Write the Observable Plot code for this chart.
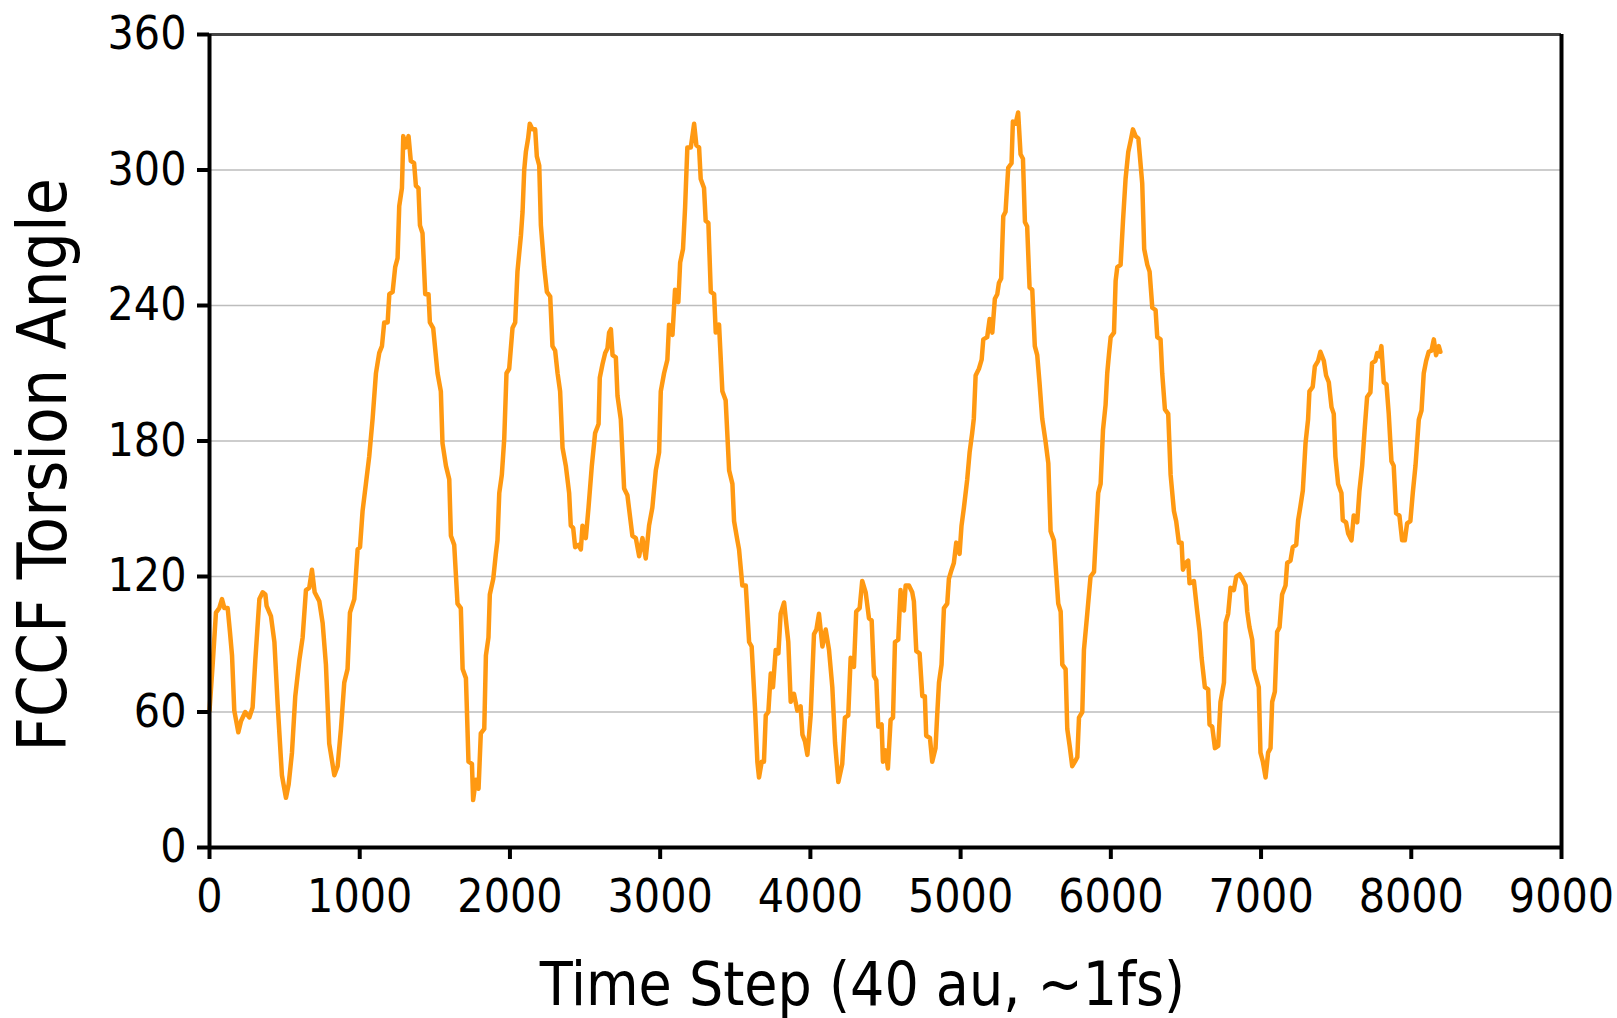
<!DOCTYPE html>
<html><head><meta charset="utf-8">
<script src="https://cdn.jsdelivr.net/npm/d3@7"></script>
<script src="https://cdn.jsdelivr.net/npm/@observablehq/plot@0.6"></script>
<style>html,body{margin:0;padding:0;background:#fff;overflow:hidden}</style>
</head><body><div id="chart"></div>
<script>
const xTicks = [0,1000,2000,3000,4000,5000,6000,7000,8000,9000];
const yTicks = [0,60,120,180,240,300,360];
const xLabel = "Time Step (40 au, ~1fs)";
const yLabel = "FCCF Torsion Angle";
// [time step, torsion angle]
const torsion = [
[0,60.6],[21,81],[43,104],[65,106],[83,110],[99,106],[121,106],[136,95.5],[150,85],[165,60.6],[192,51],[210,56],[238,60],[265,57.6],[287,62],[305,83],[332,110],[354,113],[372,112],[380,107],[409,102.5],[432,91],[454,63],[482,32],[509,22],[527,28],[549,42],[571,67],[598,83],[620,93],[642,114],[664,115],[682,123],[700,113],[731,109],[753,99.5],[775,81],[797,46],[831,32],[853,36],[875,52.5],[897,73],[919,79],[935,104],[964,110],[986,132],[1002,133],[1019,149],[1041,161],[1063,173],[1086,190],[1108,210],[1130,219],[1148,222],[1163,232.5],[1186,232.5],[1197,245],[1219,246],[1236,257],[1252,261],[1263,284],[1281,292],[1290,315],[1307,310],[1325,315],[1340,304],[1362,303],[1374,293],[1391,292],
[1401,275.5],[1418,272],[1436,245],[1458,245],[1467,232.5],[1489,230],[1518,210],[1540,202],[1551,179],[1574,169],[1596,163],[1607,138],[1629,134],[1651,108],[1673,106],[1685,79],[1707,75],[1724,38],[1747,37],[1755,21],[1773,30],[1791,26],[1806,50.5],[1829,52.5],[1840,85],[1857,93],[1866,112],[1889,119],[1906,130],[1917,136],[1929,157],[1946,165],[1962,181],[1977,210],[1995,212],[2017,230],[2035,232.5],[2050,255],[2073,271],[2084,281.5],[2095,300],[2106,308],[2121,314],[2132,320.5],[2150,318],[2168,318],[2179,306],[2195,302],[2206,275.5],[2228,257],[2246,246],[2268,244],[2283,222],[2301,220],[2317,210],[2334,202],[2350,177],[2372,169],[2394,157],[2405,142.5],[2421,141.5],[2434,133],[2456,134],[2472,132],[2483,142.5],[2505,137],[2523,150.5],[2545,169],[2567,183.5],[2590,187.5],[2598,208],[2616,214],[2634,219],[2649,221],[2660,228],[2672,229.5],[2683,218],[2705,217],[2716,200],[2738,189.5],[2760,159],[2782,156],
[2815,138],[2838,137],[2860,129],[2882,137],[2904,128],[2926,142.5],[2948,150.5],[2971,167],[2993,175],[3004,202],[3026,210],[3048,216],[3059,231.5],[3082,227],[3099,247],[3121,241.5],[3133,259],[3152,265],[3166,283.5],[3181,310],[3204,310],[3226,320.5],[3241,311],[3259,310],[3270,296],[3292,292],[3303,277.5],[3321,276.5],[3337,246],[3359,245],[3370,228],[3392,231.5],[3414,202],[3436,198],[3459,167],[3481,161],[3492,144.5],[3514,136],[3525,132],[3547,116],[3570,116],[3592,91],[3609,89],[3632,60.6],[3647,38],[3658,31],[3676,38],[3691,38],[3703,58.5],[3720,60],[3736,77],[3751,71],[3769,87.5],[3787,86],[3802,103.5],[3825,108.5],[3836,101.5],[3853,91],[3869,64.5],[3891,68],[3913,60.6],[3935,62.5],[3947,50],[3964,47],[3980,41],[4002,58.5],[4024,94.5],[4040,96.5],[4057,103.5],[4080,89],[4102,96.5],[4124,87.5],[4146,71],[4164,46.5],[4186,29],
[4212,37],[4230,57.5],[4252,58.5],[4268,84],[4290,80],[4305,104.5],[4328,106],[4345,118],[4368,113],[4390,101.5],[4408,100.5],[4423,76],[4439,74],[4452,53.5],[4474,54.5],[4483,38],[4501,43],[4516,35],[4534,56.5],[4550,57.5],[4563,91],[4585,92],[4600,114],[4612,106],[4623,105],[4634,116],[4656,116],[4678,113],[4689,109],[4705,87],[4727,86],[4745,67],[4762,67],[4771,49.5],[4796,48.5],[4811,38],[4833,44],[4844,58.5],[4856,73],[4873,81],[4889,106],[4911,108],[4922,119],[4940,123],[4955,126],[4971,135],[4993,130],[5006,142.5],[5022,150.5],[5044,163],[5060,175],[5077,183.5],[5088,190],[5100,209],[5122,212],[5140,216],[5151,225],[5177,226],[5193,234],[5211,228],[5228,243],[5244,245],[5255,250],[5270,252],[5284,279.5],[5299,281.5],[5317,301],[5339,303],[5348,321.5],[5366,320.5],[5383,325.5],[5399,307],[5415,305],[5428,277],[5443,275],[5459,248],[5477,247],[5494,222],[5510,218],[5525,206],[5543,190],[5565,180],
[5584,170],[5599,140],[5621,136],[5650,108],[5666,104.5],[5677,81],[5699,79],[5710,52.5],[5726,45],[5743,36],[5761,38],[5777,40],[5788,57.5],[5810,60],[5821,87.5],[5843,103.5],[5865,120],[5888,122],[5899,136],[5916,157],[5932,161],[5948,185],[5965,196],[5976,210],[5987,218],[5999,226],[6021,228],[6032,251],[6043,257],[6065,258],[6081,277.5],[6098,296],[6116,308],[6132,313],[6147,318],[6165,315],[6183,314],[6191,308],[6209,294],[6222,265],[6243,258],[6258,255],[6276,239],[6298,238],[6309,226],[6331,225],[6342,210],[6360,194],[6382,192],[6398,165],[6420,149],[6435,144.5],[6453,135],[6471,135],[6480,123],[6498,126],[6515,127],[6524,117],[6553,118],[6575,104.5],[6591,95.5],[6604,84],[6626,71],[6648,70],[6657,54.5],[6675,53.5],[6693,44],[6715,45],[6730,64.5],[6753,73],[6764,99.5],[6781,103.5],[6797,115],[6819,114],[6835,120],[6857,121],[6875,119],[6897,116],[6908,104.5],[6923,97.5],[6941,92],[6952,79],
[6985,71],[6996,42],[7012,38],[7030,31],[7047,42],[7063,44],[7074,64.5],[7092,69],[7107,95.5],[7123,97.5],[7140,112],[7163,116],[7174,126],[7196,127],[7211,133],[7234,134],[7247,145],[7262,151],[7278,158],[7296,179],[7313,189.5],[7322,202],[7344,204],[7358,213],[7380,215.5],[7395,219.5],[7418,215.5],[7433,209],[7451,206],[7469,195],[7484,192],[7495,173],[7513,161],[7535,157],[7544,145],[7566,144],[7580,139],[7602,136],[7617,147],[7640,144],[7655,158],[7673,169],[7690,185.5],[7706,199.5],[7728,201.5],[7739,214.5],[7761,215.5],[7773,219],[7788,217.5],[7801,222],[7817,206],[7835,205],[7850,192],[7868,171],[7883,169],[7899,148],[7921,147],[7939,136],[7957,136],[7972,143.5],[7994,144.5],[8010,157],[8028,169],[8050,189.5],[8068,193.5],[8083,210],[8099,215.5],[8116,219.5],[8134,220],[8150,225],[8165,218],[8183,222],[8194,219.5]
];
const data = torsion.map(([step, angle]) => ({step, angle}));

const chart = Plot.plot({
  width: 1617, height: 1018,
  marginLeft: 209, marginRight: 56, marginTop: 34, marginBottom: 171,
  style: {fontFamily: "'DejaVu Sans Condensed', 'DejaVu Sans', sans-serif", background: "#fff", color: "#000"},
  x: {domain: [0, 9000]},
  y: {domain: [0, 360]},
  marks: [
    Plot.gridY(yTicks.filter(d => d > 0 && d < 360), {stroke: "#bdbdbd", strokeOpacity: 1, strokeWidth: 1.5}),
    Plot.line(data, {x: "step", y: "angle", stroke: "#ff9912", strokeWidth: 4.5}),
    Plot.ruleY([360], {stroke: "#444", strokeWidth: 3}),
    Plot.ruleX([9000], {stroke: "#000", strokeWidth: 4}),
    Plot.axisY({ticks: yTicks, tickSize: 12, tickPadding: 11, fontSize: 46, strokeWidth: 4, label: null, tickFormat: d => String(d)}),
    Plot.axisX({ticks: xTicks, tickSize: 12, tickPadding: 20, fontSize: 46, strokeWidth: 4, label: null, tickFormat: d => String(d)}),
    Plot.ruleX([0], {stroke: "#000", strokeWidth: 4}),
    Plot.ruleY([0], {stroke: "#000", strokeWidth: 4}),
    Plot.text([yLabel], {text: d => d, frameAnchor: "left", textAnchor: "middle", lineAnchor: "middle", rotate: -90, dx: -165, dy: 24, fontSize: 67}),
    Plot.text([xLabel], {text: d => d, frameAnchor: "bottom", dx: -23, dy: 157, fontSize: 60})
  ]
});
document.getElementById("chart").appendChild(chart);
</script>
</body></html>
